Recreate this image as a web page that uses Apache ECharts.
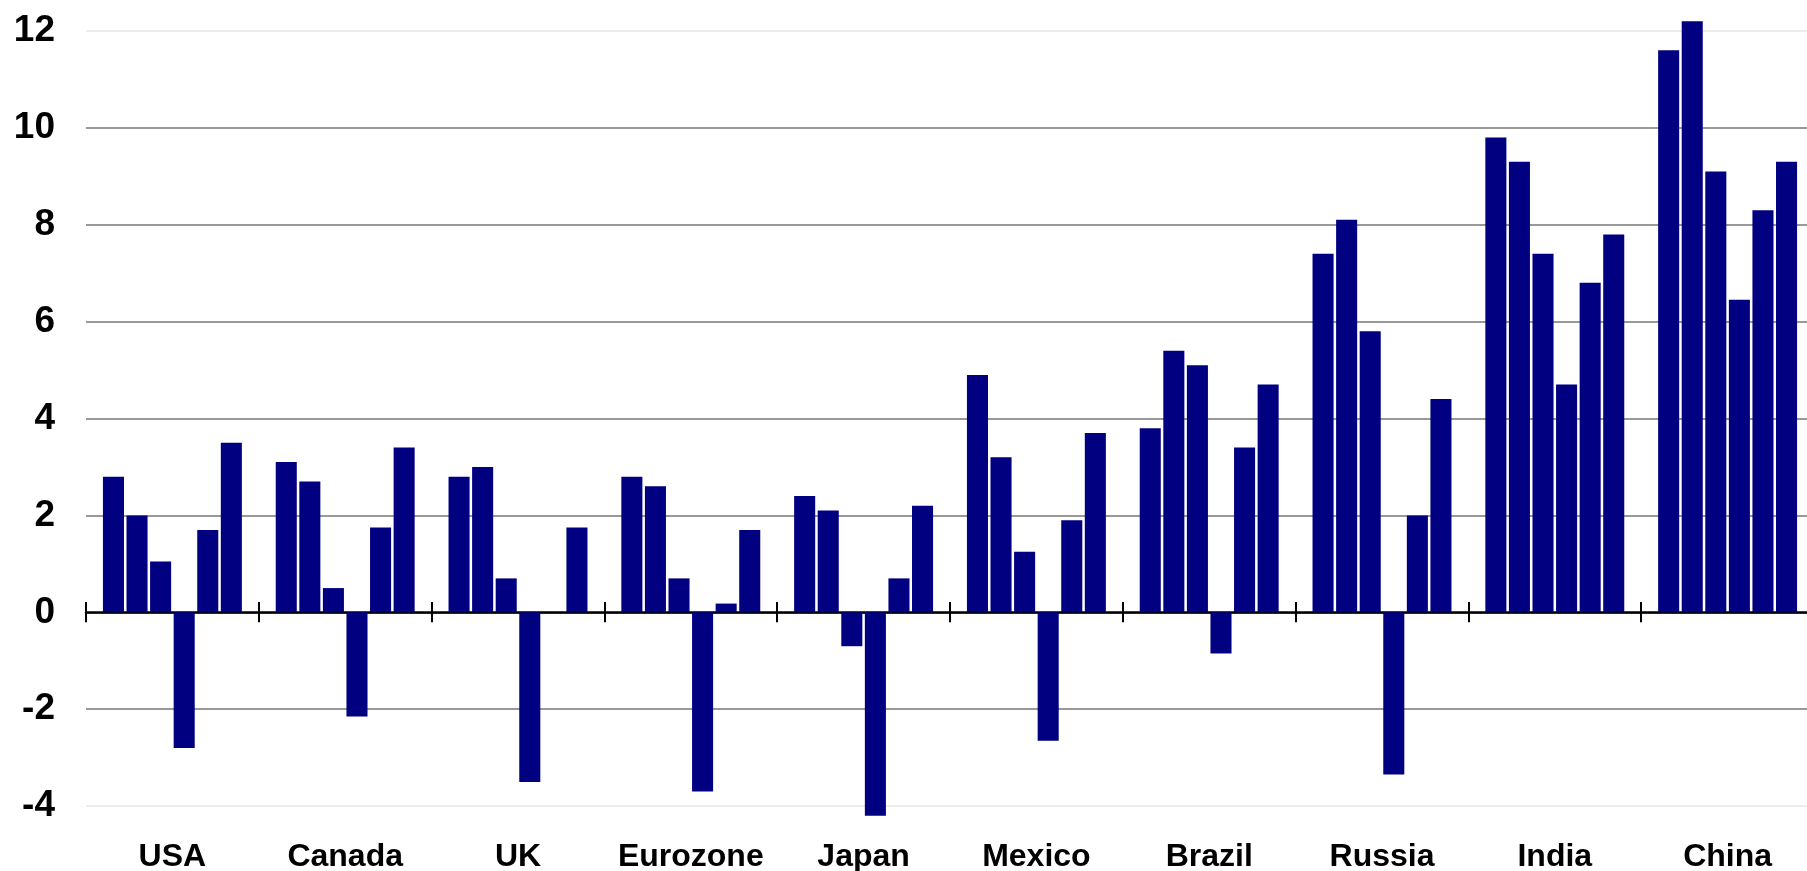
<!DOCTYPE html>
<html>
<head>
<meta charset="utf-8">
<script src="https://cdn.jsdelivr.net/npm/echarts@6/dist/echarts.min.js"></script>
<style>
  html, body { margin: 0; padding: 0; background: #fff; }
  #chart { width: 1807px; height: 871px; }
</style>
</head>
<body>
<div id="chart"></div>
<script>
const countries = ["USA", "Canada", "UK", "Eurozone", "Japan", "Mexico", "Brazil", "Russia", "India", "China"];
const years = ["2006", "2007", "2008", "2009", "2010", "2011"];

// one array per bar position inside each country group
const growth2006 = [2.8, 3.1, 2.8, 2.8, 2.4, 4.9, 3.8, 7.4, 9.8, 11.6];
const growth2007 = [2.0, 2.7, 3.0, 2.6, 2.1, 3.2, 5.4, 8.1, 9.3, 12.2];
const growth2008 = [1.05, 0.5, 0.7, 0.7, -0.7, 1.25, 5.1, 5.8, 7.4, 9.1];
const growth2009 = [-2.8, -2.15, -3.5, -3.7, -4.2, -2.65, -0.85, -3.35, 4.7, 6.45];
const growth2010 = [1.7, 1.75, null, 0.18, 0.7, 1.9, 3.4, 2.0, 6.8, 8.3];
const growth2011 = [3.5, 3.4, 1.75, 1.7, 2.2, 3.7, 4.7, 4.4, 7.8, 9.3];

const yMin = -6;
const yMax = 14;
const yStep = 2;

const seriesValues = [growth2006, growth2007, growth2008, growth2009, growth2010, growth2011];

const font = "'Liberation Sans', Arial, Helvetica, sans-serif";

const chart = echarts.init(document.getElementById("chart"));

const option = {
  animation: false,
  backgroundColor: "#fff",
  grid: {
    left: 86,
    top: -66,
    width: 1728,
    height: 969,
    outerBoundsMode: "none",
    containLabel: false,
  },
  xAxis: [
    {
      // zero line with the lower half of the ticks
      type: "category",
      data: countries,
      position: "bottom",
      axisLine: { onZero: true, lineStyle: { color: "#000", width: 2.5 } },
      axisTick: { show: true, inside: false, length: 10, interval: 0, lineStyle: { color: "#000", width: 2 } },
      axisLabel: { show: false },
      splitLine: { show: false },
    },
    {
      // moved up onto the zero line: upper half of the ticks + the country names
      type: "category",
      data: countries,
      position: "bottom",
      offset: -291,
      axisLine: { show: false, onZero: false },
      axisTick: { show: true, inside: true, length: 10, interval: 0, lineStyle: { color: "#000", width: 2 } },
      axisLabel: {
        interval: 0,
        margin: 229,
        color: "#000",
        fontSize: 32,
        fontWeight: "bold",
        fontFamily: font,
      },
      splitLine: { show: false },
    },
  ],
  yAxis: {
    type: "value",
    min: yMin,
    max: yMax,
    interval: yStep,
    axisLine: { show: false },
    axisTick: { show: false },
    axisLabel: {
      margin: 31,
      color: "#000",
      fontSize: 37,
      fontWeight: "bold",
      fontFamily: font,
      // the -6 row sits below the picture edge
      formatter: (v) => (v < -4 ? "" : String(v)),
    },
    splitLine: {
      show: true,
      lineStyle: {
        width: 2,
        // -4 and 12 lines are only faint in the original
        color: ["#fff", "#ececec", "#999", "#999", "#999", "#999", "#999", "#999", "#999", "#ececec", "#999"],
      },
    },
  },
  series: [],
};

for (let i = 0; i < years.length; i++) {
  option.series.push({
    name: years[i],
    type: "bar",
    xAxisIndex: 0,
    data: seriesValues[i],
    barGap: "12%",
    barCategoryGap: "19.6%",
    itemStyle: { color: "#000080" },
  });
}

chart.setOption(option);

window.addEventListener("resize", () => {
  chart.resize();
});
</script>
</body>
</html>
